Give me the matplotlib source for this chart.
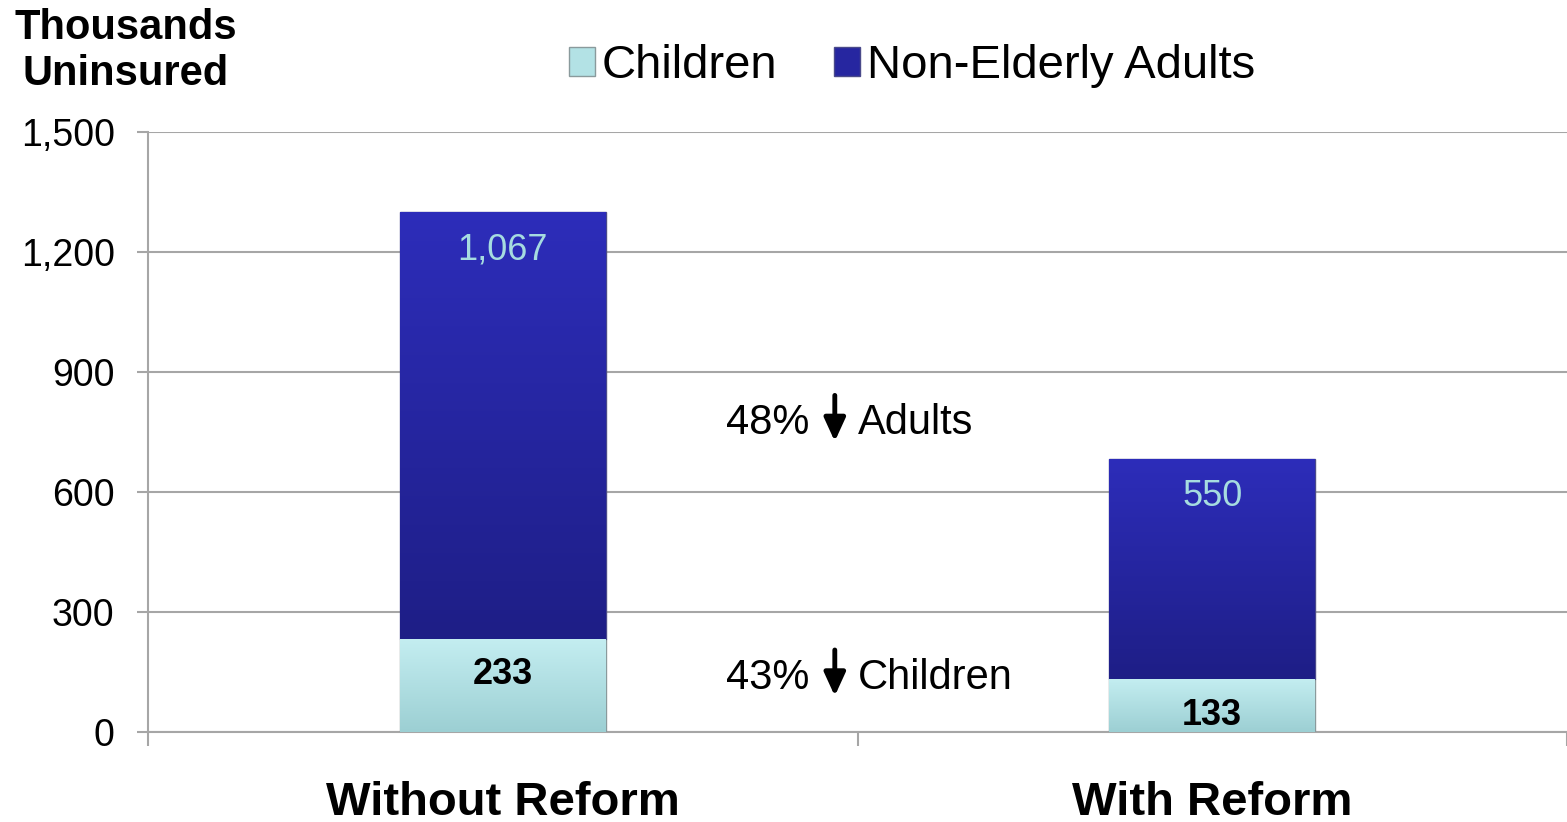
import numpy as np
import matplotlib
matplotlib.use("Agg")
import matplotlib.pyplot as plt
from matplotlib.patches import Patch
from matplotlib.colors import LinearSegmentedColormap

plt.rcParams['font.family'] = ['Liberation Sans', 'DejaVu Sans']

# data
categories = ["Without Reform", "With Reform"]
children = [233, 133]
adults = [1067, 550]
yticks = [0, 300, 600, 900, 1200, 1500]
pct_adults = "48%"
pct_children = "43%"

GRID = '#A6A6A6'
ADULT_TOP, ADULT_BOT = '#2D2DBA', '#1E1E86'
KID_TOP, KID_BOT = '#C4EEF1', '#9CCFD3'

fig = plt.figure(figsize=(15.67, 8.22), dpi=100)
ax = fig.add_axes([148/1567, 1 - 732/822, 1 - 148/1567, 600/822])

x = np.arange(len(categories)) + 0.5
w = 0.29

b1 = ax.bar(x, children, width=w, color=KID_BOT, edgecolor='#8A9A9C', linewidth=1, zorder=3)
b2 = ax.bar(x, adults, width=w, bottom=children, color=ADULT_BOT, edgecolor='#4A4A8A', linewidth=1, zorder=3)

# vertical gradient fill, clipped to each bar
grad = np.linspace(0, 1, 256).reshape(-1, 1)
for bars, top, bot in [(b1, KID_TOP, KID_BOT), (b2, ADULT_TOP, ADULT_BOT)]:
    cmap = LinearSegmentedColormap.from_list('g', [bot, top])
    for p in bars:
        x0, y0 = p.get_x(), p.get_y()
        im = ax.imshow(grad, cmap=cmap, aspect='auto', origin='lower',
                       extent=[x0, x0 + p.get_width(), y0, y0 + p.get_height()], zorder=3.5)
        im.set_clip_path(p)

ax.set_xlim(0, 2)
ax.set_ylim(0, 1500)

ax.set_yticks(yticks)
ax.set_yticklabels([f"{v:,}" for v in yticks])
ax.yaxis.grid(True, color=GRID, linewidth=1.5, zorder=0)
ax.tick_params(axis='y', length=8, width=1.5, color=GRID, pad=16, labelsize=27)

ax.set_xticks([0, 1, 2])
ax.set_xticklabels([])
ax.set_xticks(x, minor=True)
ax.set_xticklabels(categories, minor=True, fontsize=34, fontweight='bold')
ax.tick_params(axis='x', which='major', length=10, width=1.5, color=GRID, direction='out')
ax.tick_params(axis='x', which='minor', length=0, pad=35)

for s in ['top', 'right']:
    ax.spines[s].set_visible(False)
for s in ['left', 'bottom']:
    ax.spines[s].set_color(GRID)
    ax.spines[s].set_linewidth(1.5)

# value labels
for xi, c, a in zip(x, children, adults):
    ax.annotate(f"{a:,}", (xi, c + a), xytext=(0, -27), textcoords='offset points',
                ha='center', va='center', fontsize=26, color='#A6DCE0', zorder=5)
kid_offsets = [8, -7]
for xi, c, off in zip(x, children, kid_offsets):
    ax.annotate(f"{c:,}", (xi, c / 2), xytext=(0, off), textcoords='offset points',
                ha='center', va='center', fontsize=26, fontweight='bold', color='black', zorder=5)

# percentage drop annotations between bars
mid = 1.0
adult_y = (adults[0] + children[0] + adults[1] + children[1]) / 2 - 220
kid_y = (children[0] + children[1]) / 2 - 48
for yv, pct, lab in [(adult_y, pct_adults, "Adults"), (kid_y, pct_children, "Children")]:
    ax.text(0.932, yv, pct, ha='right', va='center', fontsize=30)
    ax.text(mid, yv, lab, ha='left', va='center', fontsize=30)
    ax.annotate('', xy=(0.968, yv - 45), xytext=(0.968, yv + 70),
                arrowprops=dict(arrowstyle='-|>,head_width=0.32,head_length=0.7',
                                mutation_scale=20, lw=3.5, color='black',
                                shrinkA=0, shrinkB=0))

handles = [Patch(facecolor='#B3E2E5', edgecolor='#8A9A9C', label='Children'),
           Patch(facecolor='#2626A0', edgecolor='#4A4A8A', label='Non-Elderly Adults')]
fig.legend(handles=handles, loc='center', bbox_to_anchor=(912/1567, 1 - 66/822),
           ncol=2, frameon=False, fontsize=34, handlelength=0.55, handleheight=0.55,
           handletextpad=0.15, columnspacing=1.2)

fig.text(126/1567, 1 - 51/822, "Thousands\nUninsured", ha='center', va='center',
         fontsize=30, fontweight='bold', linespacing=1.2)

fig.savefig('out.png', dpi=100)
